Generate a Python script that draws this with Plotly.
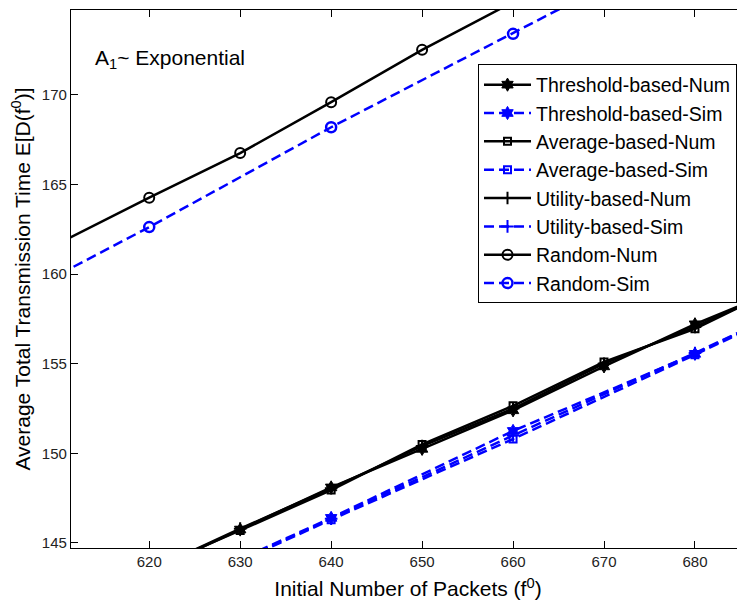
import plotly.graph_objects as go

# ---- data ----
x_num = [610, 620, 630, 640, 650, 660, 670, 680, 690]
x_sim = [600, 620, 640, 660, 680, 700]

thr_num = [None, 143.40, 145.75, 148.10, 150.25, 152.40, 154.85, 157.20, 159.30]
avg_num = [None, 143.50, 145.70, 147.95, 150.50, 152.65, 155.10, 156.95, 159.40]
uti_num = [None, 143.45, 145.80, 148.05, 150.40, 152.50, 155.00, 157.05, 159.35]
rnd_num = [161.70, 164.26, 166.75, 169.59, 172.51, 175.17, None, None, None]

thr_sim = [None, 141.80, 146.40, 151.25, 155.55, 160.40]
avg_sim = [None, 141.70, 146.30, 150.80, 155.50, 160.30]
uti_sim = [None, 141.75, 146.35, 151.00, 155.60, 160.35]
rnd_sim = [157.30, 162.62, 168.19, 173.40, 178.70, None]

x_ticks = [620, 630, 640, 650, 660, 670, 680]
y_ticks = [145, 150, 155, 160, 165, 170]

FONT = "Liberation Sans, Arial, Helvetica, sans-serif"
BLACK = "#000000"
BLUE = "#0000FF"

fig = go.Figure()

def add(x, y, name, color, dash, symbol, size, mlw):
    fig.add_trace(go.Scatter(
        x=x, y=y, name=name, mode="lines+markers",
        line=dict(color=color, width=2.5, dash=dash),
        marker=dict(symbol=symbol, size=size, color=color,
                    line=dict(color=color, width=mlw)),
        connectgaps=False,
    ))

SIMDASH = "10px,5px"
add(x_num, thr_num, "Threshold-based-Num", BLACK, "solid", "hexagram", 10, 1)
add(x_sim, thr_sim, "Threshold-based-Sim", BLUE, SIMDASH, "hexagram", 10, 1)
add(x_num, avg_num, "Average-based-Num", BLACK, "solid", "square-open", 7, 2)
add(x_sim, avg_sim, "Average-based-Sim", BLUE, SIMDASH, "square-open", 7, 2)
add(x_num, uti_num, "Utility-based-Num", BLACK, "solid", "cross-thin-open", 9, 2)
add(x_sim, uti_sim, "Utility-based-Sim", BLUE, SIMDASH, "cross-thin-open", 9, 2)
add(x_num, rnd_num, "Random-Num", BLACK, "solid", "circle-open", 10, 2)
add(x_sim, rnd_sim, "Random-Sim", BLUE, SIMDASH, "circle-open", 10, 2.5)

# page body has an 8px margin, so the figure is 8px smaller than the window
W, H = 737, 593
L, T, B = 63, 1.5, 53.3
PW, PH = W - L, H - T - B   # plot area 674 x 538.2

def px(xp):  # window pixel x -> paper
    return (xp - 8 - L) / PW

def py(yp):  # window pixel y -> paper
    return (T + PH - (yp - 8)) / PH

fig.add_annotation(
    text="A<sub>1</sub>~ Exponential", xref="paper", yref="paper",
    x=px(93), y=py(59), xanchor="left", yanchor="middle",
    showarrow=False, font=dict(family=FONT, size=21, color=BLACK),
)

fig.update_layout(
    width=W, height=H,
    margin=dict(l=L, r=0, t=T, b=B, autoexpand=False),
    paper_bgcolor="white", plot_bgcolor="white",
    font=dict(family=FONT, color=BLACK),
    showlegend=True,
    legend=dict(
        x=px(478), y=py(64), xanchor="left", yanchor="top",
        bgcolor="white", bordercolor=BLACK, borderwidth=1,
        font=dict(family=FONT, size=19.5, color=BLACK),
        traceorder="normal", tracegroupgap=0, itemwidth=47,
    ),
    xaxis=dict(
        range=[611.4, 685.5], tickvals=x_ticks, ticktext=[str(v) for v in x_ticks],
        ticks="inside", ticklen=7, tickwidth=1, tickcolor=BLACK,
        showline=True, linecolor=BLACK, linewidth=1.3, mirror="allticks",
        showgrid=False, zeroline=False, automargin=False,
        tickfont=dict(family=FONT, size=15, color="#222222"),
        title=dict(text="Initial Number of Packets (f<sup>0</sup>)",
                   font=dict(family=FONT, size=21, color=BLACK), standoff=12),
    ),
    yaxis=dict(
        range=[144.72, 174.73], tickvals=y_ticks, ticktext=[str(v) for v in y_ticks],
        ticks="inside", ticklen=7, tickwidth=1, tickcolor=BLACK,
        showline=True, linecolor=BLACK, linewidth=1.3, mirror=False,
        showgrid=False, zeroline=False, automargin=False,
        tickfont=dict(family=FONT, size=15, color="#222222"),
        title=dict(text="Average Total Transmission Time E[D(f<sup>0</sup>)]",
                   font=dict(family=FONT, size=21, color=BLACK), standoff=9),
    ),
)

fig.write_html("out.html")
